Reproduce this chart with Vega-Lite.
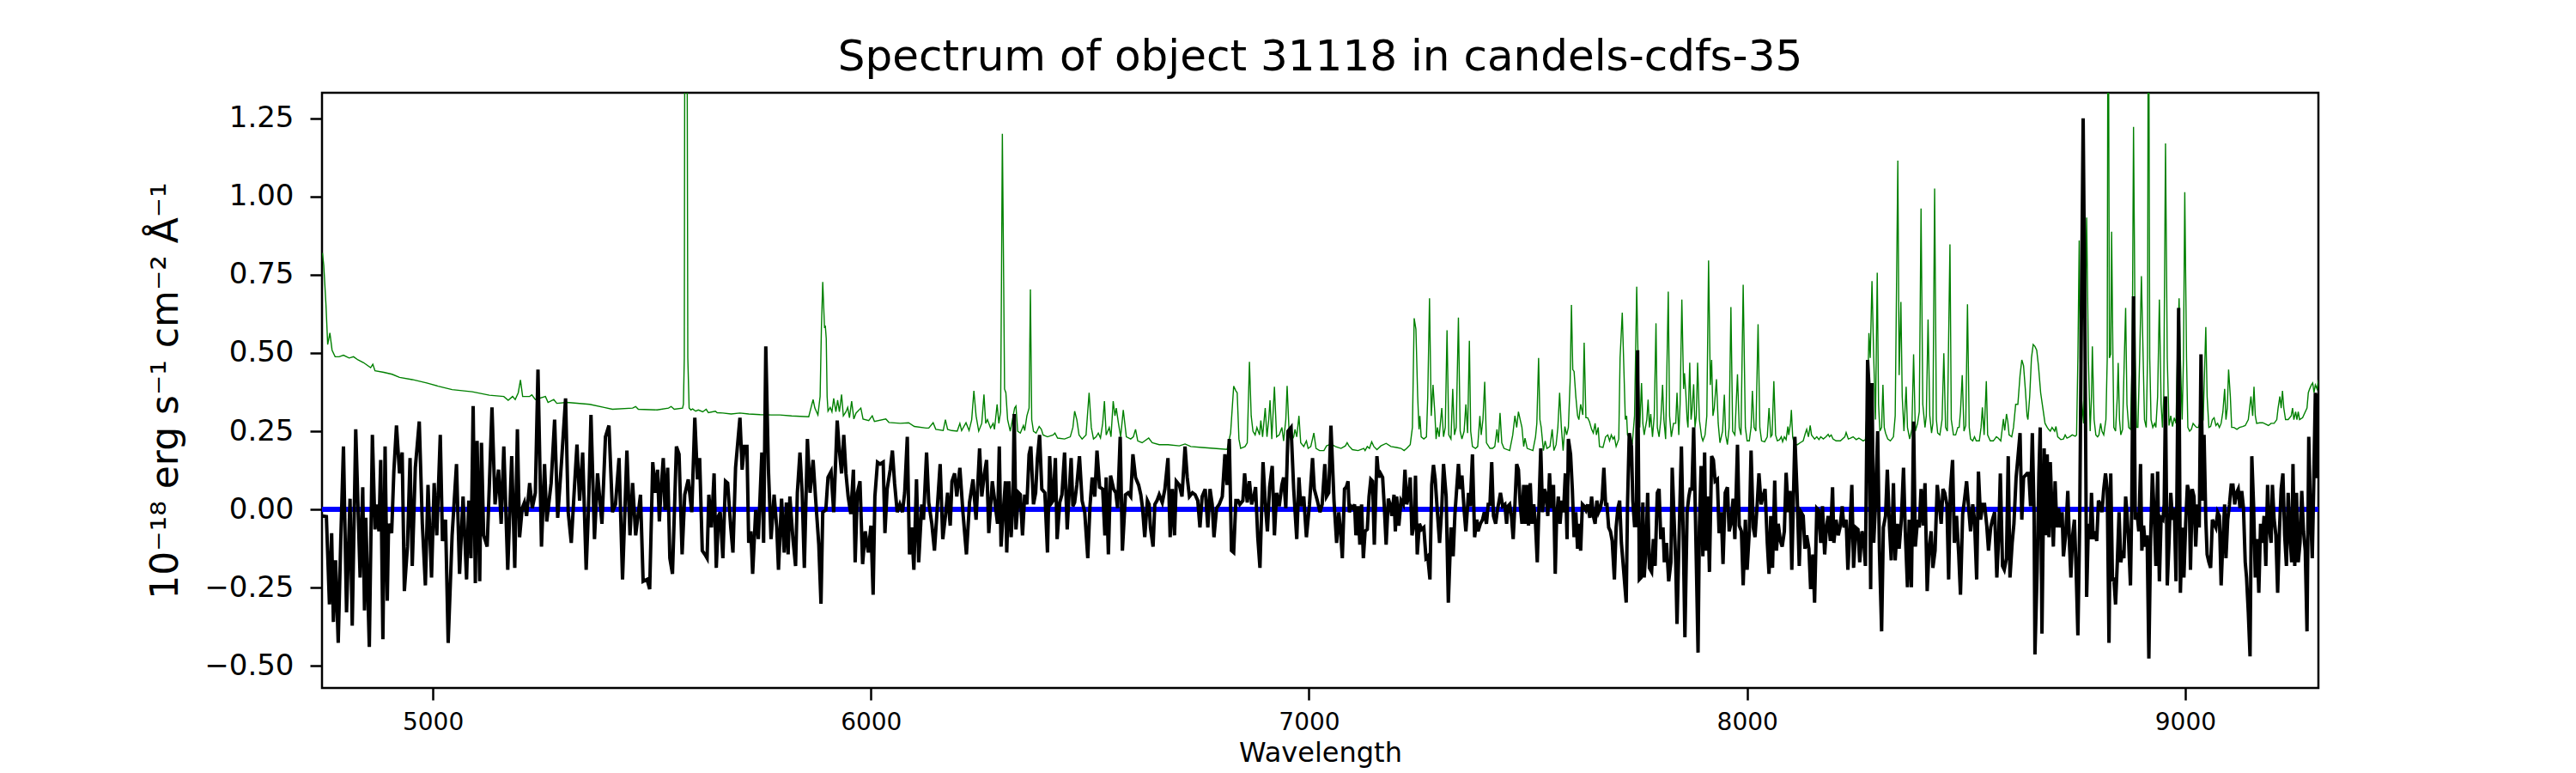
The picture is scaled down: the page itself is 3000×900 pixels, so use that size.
{
  "$schema": "https://vega.github.io/schema/vega-lite/v6.json",
  "width": 2325,
  "height": 693,
  "autosize": {"type": "none"},
  "padding": {"left": 375, "top": 108, "right": 300, "bottom": 99},
  "background": "white",
  "title": {
    "text": "Spectrum of object 31118 in candels-cdfs-35",
    "font": "DejaVu Sans", "fontSize": 50, "fontWeight": "normal", "color": "black",
    "anchor": "middle", "baseline": "alphabetic", "offset": 23, "dy": 47
  },
  "config": {
    "view": {"stroke": "black", "strokeWidth": 2.5},
    "axis": {
      "grid": false, "domain": false,
      "labelFont": "DejaVu Sans", "labelColor": "black",
      "titleFont": "DejaVu Sans", "titleFontWeight": "normal", "titleColor": "black",
      "tickColor": "black", "tickWidth": 2.5, "tickSize": 14,
      "labelOverlap": false, "labelFlush": false, "labelBound": false
    }
  },
  "datasets": {
    "flux": [
      {"w":4748,"v":-0.021},{"w":4757,"v":-0.023},{"w":4764,"v":-0.304},{"w":4769,"v":-0.076},{"w":4773,"v":-0.360},{"w":4778,"v":-0.163},{"w":4784,"v":-0.427},{"w":4790,"v":-0.089},{"w":4796,"v":0.201},{"w":4803,"v":-0.329},
      {"w":4811,"v":0.034},{"w":4816,"v":-0.372},{"w":4824,"v":0.256},{"w":4834,"v":-0.218},{"w":4840,"v":0.071},{"w":4844,"v":-0.323},{"w":4847,"v":-0.027},{"w":4855,"v":-0.440},{"w":4862,"v":0.238},{"w":4868,"v":-0.064},
      {"w":4871,"v":0.016},{"w":4877,"v":-0.070},{"w":4881,"v":0.158},{"w":4886,"v":-0.415},{"w":4891,"v":0.201},{"w":4896,"v":-0.292},{"w":4899,"v":-0.046},{"w":4906,"v":-0.076},{"w":4911,"v":0.121},{"w":4917,"v":0.268},
      {"w":4924,"v":0.115},{"w":4930,"v":0.182},{"w":4935,"v":-0.261},{"w":4942,"v":-0.119},{"w":4948,"v":0.164},{"w":4953,"v":-0.181},{"w":4960,"v":0.133},{"w":4969,"v":0.281},{"w":4976,"v":-0.046},{"w":4983,"v":-0.243},
      {"w":4989,"v":0.078},{"w":4997,"v":-0.218},{"w":5003,"v":0.084},{"w":5009,"v":-0.083},{"w":5017,"v":0.238},{"w":5022,"v":-0.101},{"w":5029,"v":-0.033},{"w":5035,"v":-0.427},{"w":5044,"v":-0.083},{"w":5054,"v":0.145},
      {"w":5061,"v":-0.206},{"w":5069,"v":0.041},{"w":5077,"v":-0.224},{"w":5082,"v":0.028},{"w":5087,"v":-0.156},{"w":5092,"v":0.330},{"w":5097,"v":-0.236},{"w":5101,"v":0.219},{"w":5107,"v":-0.230},{"w":5111,"v":0.213},
      {"w":5116,"v":-0.083},{"w":5124,"v":-0.119},{"w":5129,"v":0.078},{"w":5135,"v":0.326},{"w":5142,"v":0.016},{"w":5150,"v":0.127},{"w":5156,"v":-0.046},{"w":5162,"v":0.201},{"w":5171,"v":-0.193},{"w":5180,"v":0.170},
      {"w":5187,"v":-0.187},{"w":5193,"v":0.256},{"w":5198,"v":-0.089},{"w":5204,"v":0.004},{"w":5209,"v":0.022},{"w":5214,"v":-0.021},{"w":5221,"v":0.084},{"w":5227,"v":0.004},{"w":5234,"v":0.053},{"w":5240,"v":0.447},
      {"w":5248,"v":-0.119},{"w":5255,"v":0.145},{"w":5260,"v":-0.039},{"w":5270,"v":0.084},{"w":5278,"v":0.287},{"w":5285,"v":-0.027},{"w":5294,"v":0.158},{"w":5303,"v":0.355},{"w":5309,"v":-0.009},{"w":5316,"v":-0.107},
      {"w":5322,"v":0.041},{"w":5329,"v":0.207},{"w":5335,"v":0.028},{"w":5342,"v":0.182},{"w":5350,"v":-0.193},{"w":5355,"v":-0.009},{"w":5361,"v":0.302},{"w":5369,"v":-0.095},{"w":5376,"v":0.115},{"w":5386,"v":-0.046},
      {"w":5394,"v":0.232},{"w":5402,"v":0.268},{"w":5410,"v":-0.009},{"w":5417,"v":0.016},{"w":5425,"v":0.164},{"w":5433,"v":-0.224},{"w":5443,"v":0.188},{"w":5450,"v":-0.083},{"w":5456,"v":0.084},{"w":5463,"v":-0.083},
      {"w":5474,"v":0.047},{"w":5480,"v":-0.230},{"w":5489,"v":-0.224},{"w":5495,"v":-0.255},{"w":5502,"v":0.151},{"w":5508,"v":0.053},
      {"w":5513,"v":0.127},{"w":5517,"v":-0.039},{"w":5521,"v":0.065},{"w":5526,"v":0.164},{"w":5530,"v":-0.002},{"w":5536,"v":0.133},{"w":5541,"v":-0.156},{"w":5547,"v":-0.206},{"w":5556,"v":0.201},{"w":5562,"v":0.176},
      {"w":5569,"v":-0.144},{"w":5575,"v":0.047},{"w":5583,"v":0.096},{"w":5591,"v":-0.009},{"w":5598,"v":0.293},{"w":5604,"v":0.096},{"w":5609,"v":0.164},{"w":5615,"v":-0.132},{"w":5621,"v":-0.144},{"w":5626,"v":-0.156},
      {"w":5630,"v":0.047},{"w":5636,"v":-0.058},{"w":5642,"v":0.115},{"w":5647,"v":-0.187},{"w":5652,"v":-0.021},{"w":5656,"v":-0.009},{"w":5662,"v":-0.156},{"w":5668,"v":0.090},{"w":5673,"v":0.084},{"w":5680,"v":-0.058},
      {"w":5685,"v":-0.138},{"w":5691,"v":0.133},{"w":5701,"v":0.293},{"w":5706,"v":0.127},{"w":5711,"v":0.201},{"w":5717,"v":0.201},{"w":5721,"v":-0.107},{"w":5726,"v":-0.070},{"w":5730,"v":-0.206},{"w":5737,"v":-0.002},
      {"w":5743,"v":-0.095},{"w":5751,"v":0.182},{"w":5755,"v":-0.107},{"w":5760,"v":0.521},{"w":5766,"v":0.127},{"w":5772,"v":-0.095},{"w":5779,"v":0.047},{"w":5785,"v":-0.058},{"w":5789,"v":-0.193},{"w":5796,"v":0.034},
      {"w":5802,"v":-0.138},{"w":5807,"v":0.022},{"w":5811,"v":-0.144},{"w":5815,"v":0.041},{"w":5822,"v":-0.095},{"w":5828,"v":-0.181},{"w":5832,"v":0.053},{"w":5838,"v":0.182},{"w":5843,"v":0.053},{"w":5848,"v":-0.187},
      {"w":5855,"v":0.225},{"w":5861,"v":0.053},{"w":5868,"v":0.158},{"w":5874,"v":0.028},{"w":5881,"v":-0.113},{"w":5886,"v":-0.302},{"w":5890,"v":-0.009},{"w":5897,"v":-0.002},{"w":5902,"v":0.102},{"w":5909,"v":0.121},
      {"w":5915,"v":-0.009},{"w":5923,"v":0.284},{"w":5928,"v":0.188},{"w":5933,"v":0.115},{"w":5938,"v":0.238},{"w":5943,"v":0.115},{"w":5948,"v":0.041},{"w":5954,"v":-0.015},{"w":5960,"v":0.127},{"w":5964,"v":-0.169},
      {"w":5969,"v":0.053},{"w":5975,"v":0.090},{"w":5981,"v":-0.175},{"w":5987,"v":-0.070},{"w":5994,"v":-0.138},{"w":6000,"v":-0.052},{"w":6005,"v":-0.273},{"w":6009,"v":0.041},{"w":6015,"v":0.151},{"w":6021,"v":0.145},
      {"w":6028,"v":0.151},{"w":6032,"v":-0.076},{"w":6037,"v":0.065},{"w":6044,"v":0.127},{"w":6049,"v":0.188},{"w":6054,"v":0.084},{"w":6060,"v":-0.009},{"w":6066,"v":0.016},{"w":6072,"v":-0.009},{"w":6077,"v":0.053},
      {"w":6083,"v":0.232},{"w":6088,"v":-0.144},{"w":6093,"v":-0.058},{"w":6098,"v":-0.193},{"w":6104,"v":0.096},{"w":6109,"v":-0.169},{"w":6116,"v":0.016},{"w":6120,"v":-0.033},{"w":6127,"v":0.182},{"w":6132,"v":0.022},
      {"w":6139,"v":-0.046},{"w":6145,"v":-0.132},{"w":6152,"v":0.016},{"w":6158,"v":0.145},{"w":6164,"v":-0.095},{"w":6170,"v":-0.021},{"w":6175,"v":0.053},{"w":6181,"v":-0.052},{"w":6185,"v":0.090},{"w":6191,"v":0.115},
      {"w":6196,"v":0.041},{"w":6203,"v":0.133},{"w":6210,"v":-0.009},{"w":6218,"v":-0.144},{"w":6225,"v":0.022},{"w":6233,"v":0.096},{"w":6240,"v":-0.033},{"w":6248,"v":0.195},{"w":6253,"v":0.041},{"w":6259,"v":0.115},
      {"w":6264,"v":0.158},{"w":6269,"v":-0.076},{"w":6277,"v":0.090},{"w":6282,"v":0.034},{"w":6289,"v":-0.046},
      {"w":6293,"v":0.201},{"w":6297,"v":-0.119},{"w":6302,"v":-0.009},{"w":6307,"v":0.090},{"w":6310,"v":-0.138},{"w":6315,"v":0.090},{"w":6320,"v":-0.089},{"w":6324,"v":0.016},{"w":6327,"v":0.305},{"w":6331,"v":-0.064},
      {"w":6337,"v":0.053},{"w":6341,"v":0.047},{"w":6346,"v":-0.083},{"w":6351,"v":0.047},{"w":6356,"v":0.016},{"w":6361,"v":0.176},{"w":6365,"v":0.201},{"w":6371,"v":0.016},{"w":6376,"v":0.053},{"w":6380,"v":0.164},
      {"w":6385,"v":0.238},{"w":6390,"v":0.065},{"w":6397,"v":0.053},{"w":6403,"v":-0.138},{"w":6408,"v":0.170},{"w":6413,"v":0.022},{"w":6416,"v":0.028},{"w":6421,"v":0.164},{"w":6425,"v":-0.095},{"w":6431,"v":0.022},
      {"w":6436,"v":0.047},{"w":6442,"v":0.182},{"w":6448,"v":-0.064},{"w":6453,"v":0.065},{"w":6457,"v":0.164},{"w":6461,"v":0.010},{"w":6465,"v":0.022},{"w":6470,"v":0.078},{"w":6476,"v":0.170},{"w":6482,"v":0.028},
      {"w":6488,"v":-0.009},{"w":6495,"v":-0.156},{"w":6500,"v":0.010},{"w":6505,"v":0.102},{"w":6511,"v":0.041},{"w":6516,"v":0.188},{"w":6522,"v":0.071},{"w":6529,"v":0.065},{"w":6534,"v":-0.083},{"w":6537,"v":0.102},
      {"w":6542,"v":-0.144},{"w":6547,"v":0.108},{"w":6554,"v":0.065},{"w":6559,"v":0.053},{"w":6563,"v":0.004},{"w":6569,"v":0.232},{"w":6574,"v":-0.132},{"w":6581,"v":0.047},{"w":6587,"v":0.053},{"w":6593,"v":0.041},
      {"w":6598,"v":0.176},{"w":6604,"v":0.102},{"w":6611,"v":0.078},{"w":6616,"v":0.047},{"w":6620,"v":0.004},{"w":6625,"v":-0.089},{"w":6631,"v":0.028},{"w":6635,"v":0.016},{"w":6638,"v":-0.058},{"w":6644,"v":-0.119},
      {"w":6648,"v":0.016},{"w":6653,"v":0.028},{"w":6658,"v":0.047},{"w":6665,"v":0.022},{"w":6671,"v":0.065},{"w":6678,"v":0.164},{"w":6683,"v":-0.089},{"w":6688,"v":0.065},{"w":6693,"v":-0.083},{"w":6697,"v":0.090},
      {"w":6704,"v":0.078},{"w":6710,"v":0.041},{"w":6717,"v":0.201},{"w":6722,"v":0.102},{"w":6727,"v":0.041},{"w":6734,"v":0.053},{"w":6740,"v":0.047},{"w":6746,"v":0.028},{"w":6751,"v":-0.058},{"w":6756,"v":0.041},
      {"w":6763,"v":0.065},{"w":6769,"v":-0.058},{"w":6774,"v":0.065},{"w":6779,"v":0.016},{"w":6783,"v":-0.089},{"w":6789,"v":0.004},{"w":6795,"v":0.016},{"w":6802,"v":0.041},{"w":6808,"v":0.176},{"w":6813,"v":0.078},
      {"w":6818,"v":0.225},{"w":6823,"v":-0.132},{"w":6828,"v":-0.138},{"w":6833,"v":0.028},{"w":6838,"v":0.028},{"w":6842,"v":0.016},{"w":6849,"v":0.028},{"w":6853,"v":0.115},{"w":6859,"v":0.022},{"w":6864,"v":0.090},
      {"w":6869,"v":0.016},{"w":6874,"v":0.041},{"w":6878,"v":0.071},{"w":6883,"v":-0.089},{"w":6888,"v":-0.187},{"w":6895,"v":0.151},{"w":6900,"v":0.022},{"w":6905,"v":-0.070},{"w":6910,"v":0.071},{"w":6916,"v":0.139},
      {"w":6921,"v":-0.083},{"w":6926,"v":0.053},{"w":6932,"v":0.010},{"w":6938,"v":0.078},{"w":6942,"v":0.102},{"w":6947,"v":0.004},{"w":6952,"v":0.250},{"w":6959,"v":0.262},{"w":6965,"v":0.065},{"w":6972,"v":-0.095},
      {"w":6977,"v":0.102},{"w":6981,"v":0.010},{"w":6988,"v":0.041},{"w":6994,"v":-0.089},{"w":7001,"v":0.016},{"w":7008,"v":0.164},{"w":7012,"v":0.065},{"w":7019,"v":0.028},{"w":7025,"v":-0.009},{"w":7030,"v":0.016},
      {"w":7036,"v":0.145},{"w":7040,"v":0.041},{"w":7045,"v":0.053},{"w":7050,"v":0.268},{"w":7057,"v":0.028},{"w":7063,"v":-0.107},
      {"w":7068,"v":-0.009},{"w":7072,"v":-0.070},{"w":7076,"v":-0.156},{"w":7081,"v":0.065},{"w":7085,"v":0.071},{"w":7089,"v":0.090},{"w":7092,"v":-0.009},{"w":7096,"v":0.010},{"w":7100,"v":0.004},{"w":7104,"v":0.016},
      {"w":7107,"v":-0.083},{"w":7112,"v":0.010},{"w":7116,"v":-0.113},{"w":7120,"v":0.016},{"w":7124,"v":-0.156},{"w":7128,"v":-0.070},{"w":7133,"v":-0.064},{"w":7137,"v":0.041},{"w":7141,"v":0.096},{"w":7145,"v":0.090},
      {"w":7149,"v":-0.113},{"w":7155,"v":0.170},{"w":7159,"v":0.102},{"w":7163,"v":0.115},{"w":7168,"v":0.102},{"w":7172,"v":0.004},{"w":7176,"v":-0.113},{"w":7181,"v":0.034},{"w":7185,"v":0.016},{"w":7189,"v":-0.021},
      {"w":7194,"v":0.047},{"w":7197,"v":-0.070},{"w":7200,"v":0.041},{"w":7205,"v":-0.052},{"w":7210,"v":0.028},{"w":7215,"v":0.016},{"w":7219,"v":0.127},{"w":7223,"v":0.016},{"w":7227,"v":0.041},{"w":7231,"v":0.102},
      {"w":7235,"v":-0.083},{"w":7240,"v":-0.046},{"w":7243,"v":0.108},{"w":7247,"v":-0.144},{"w":7252,"v":-0.046},{"w":7257,"v":-0.064},{"w":7262,"v":-0.058},{"w":7267,"v":-0.156},{"w":7271,"v":-0.150},{"w":7276,"v":-0.224},
      {"w":7280,"v":0.078},{"w":7284,"v":0.142},{"w":7288,"v":0.096},{"w":7293,"v":-0.009},{"w":7298,"v":-0.107},{"w":7303,"v":0.004},{"w":7307,"v":0.145},{"w":7313,"v":0.041},{"w":7318,"v":-0.298},{"w":7324,"v":-0.058},
      {"w":7329,"v":-0.150},{"w":7333,"v":-0.015},{"w":7337,"v":0.065},{"w":7341,"v":0.145},{"w":7345,"v":0.065},{"w":7349,"v":0.108},{"w":7354,"v":-0.002},{"w":7358,"v":-0.070},{"w":7364,"v":0.053},{"w":7368,"v":0.010},
      {"w":7373,"v":0.176},{"w":7378,"v":-0.089},{"w":7383,"v":-0.033},{"w":7386,"v":-0.070},{"w":7391,"v":-0.046},{"w":7396,"v":-0.033},{"w":7400,"v":-0.009},{"w":7405,"v":-0.046},{"w":7409,"v":0.016},{"w":7413,"v":0.016},
      {"w":7417,"v":0.151},{"w":7421,"v":-0.021},{"w":7426,"v":-0.046},{"w":7430,"v":-0.002},{"w":7434,"v":0.028},{"w":7437,"v":0.053},{"w":7442,"v":0.010},{"w":7447,"v":0.016},{"w":7451,"v":-0.046},{"w":7454,"v":0.010},
      {"w":7458,"v":0.016},{"w":7462,"v":-0.021},{"w":7466,"v":-0.095},{"w":7470,"v":0.016},{"w":7474,"v":0.145},{"w":7478,"v":0.127},{"w":7482,"v":0.016},{"w":7486,"v":-0.046},{"w":7490,"v":0.078},{"w":7494,"v":-0.046},
      {"w":7498,"v":0.078},{"w":7501,"v":-0.052},{"w":7505,"v":0.084},{"w":7509,"v":-0.046},{"w":7513,"v":0.016},{"w":7517,"v":-0.046},{"w":7521,"v":-0.169},{"w":7525,"v":0.016},{"w":7529,"v":0.195},{"w":7533,"v":-0.009},
      {"w":7537,"v":0.065},{"w":7541,"v":0.047},{"w":7545,"v":-0.021},{"w":7549,"v":0.115},{"w":7553,"v":0.004},{"w":7558,"v":0.078},{"w":7562,"v":-0.206},{"w":7565,"v":-0.033},{"w":7569,"v":0.041},{"w":7573,"v":-0.046},
      {"w":7577,"v":0.028},{"w":7581,"v":-0.009},{"w":7585,"v":0.115},{"w":7589,"v":-0.095},{"w":7592,"v":0.225},{"w":7597,"v":0.176},{"w":7601,"v":0.065},{"w":7605,"v":-0.089},{"w":7609,"v":-0.009},{"w":7613,"v":-0.126},
      {"w":7616,"v":-0.046},{"w":7620,"v":-0.132},{"w":7624,"v":0.016},{"w":7628,"v":0.010},{"w":7632,"v":-0.002},{"w":7636,"v":0.016},{"w":7641,"v":-0.027},{"w":7645,"v":0.041},{"w":7649,"v":-0.021},{"w":7653,"v":-0.046},
      {"w":7657,"v":0.028},{"w":7661,"v":-0.009},{"w":7665,"v":0.004},{"w":7669,"v":0.034},{"w":7673,"v":0.133},{"w":7677,"v":0.016},{"w":7680,"v":0.016},{"w":7684,"v":-0.058},{"w":7688,"v":-0.070},{"w":7692,"v":-0.101},
      {"w":7697,"v":-0.224},{"w":7701,"v":-0.058},{"w":7705,"v":0.004},{"w":7709,"v":0.028},{"w":7713,"v":-0.107},{"w":7718,"v":-0.193},{"w":7724,"v":-0.298},{"w":7727,"v":0.016},{"w":7731,"v":0.244},{"w":7736,"v":0.201},
      {"w":7739,"v":0.028},{"w":7743,"v":-0.052},{"w":7747,"v":-0.052},{"w":7750,"v":0.509},{"w":7754,"v":-0.224},{"w":7758,"v":-0.218},{"w":7762,"v":0.022},{"w":7765,"v":-0.218},{"w":7769,"v":-0.132},{"w":7773,"v":0.053},
      {"w":7777,"v":-0.187},{"w":7782,"v":-0.200},{"w":7786,"v":-0.095},{"w":7790,"v":-0.181},{"w":7795,"v":0.053},{"w":7799,"v":0.065},{"w":7803,"v":-0.095},{"w":7808,"v":-0.058},{"w":7811,"v":-0.169},{"w":7816,"v":-0.107},
      {"w":7821,"v":-0.230},{"w":7826,"v":-0.169},{"w":7829,"v":0.133},
      {"w":7837,"v":-0.169},{"w":7840,"v":-0.366},{"w":7845,"v":-0.070},{"w":7850,"v":0.201},{"w":7854,"v":-0.070},{"w":7858,"v":-0.409},{"w":7863,"v":-0.009},{"w":7867,"v":0.041},{"w":7870,"v":0.065},{"w":7874,"v":0.065},
      {"w":7878,"v":0.262},{"w":7882,"v":-0.021},{"w":7888,"v":-0.458},{"w":7891,"v":-0.058},{"w":7895,"v":0.139},{"w":7899,"v":-0.150},{"w":7903,"v":0.182},{"w":7906,"v":-0.132},{"w":7910,"v":0.041},{"w":7914,"v":-0.200},
      {"w":7919,"v":0.170},{"w":7923,"v":0.158},{"w":7927,"v":0.090},{"w":7932,"v":0.096},{"w":7936,"v":-0.076},{"w":7941,"v":-0.009},{"w":7945,"v":-0.175},{"w":7950,"v":0.053},{"w":7955,"v":0.071},{"w":7959,"v":-0.070},
      {"w":7963,"v":-0.046},{"w":7968,"v":0.034},{"w":7972,"v":-0.095},{"w":7978,"v":0.207},{"w":7982,"v":-0.052},{"w":7987,"v":-0.070},{"w":7991,"v":-0.243},{"w":7996,"v":-0.033},{"w":8000,"v":-0.193},{"w":8005,"v":-0.070},
      {"w":8009,"v":0.188},{"w":8014,"v":-0.058},{"w":8018,"v":-0.089},{"w":8023,"v":0.016},{"w":8027,"v":0.115},{"w":8032,"v":0.016},{"w":8036,"v":0.041},{"w":8041,"v":0.065},{"w":8046,"v":-0.107},{"w":8050,"v":-0.206},
      {"w":8054,"v":-0.021},{"w":8058,"v":-0.187},{"w":8063,"v":0.092},{"w":8067,"v":-0.132},{"w":8071,"v":-0.046},{"w":8076,"v":-0.101},{"w":8080,"v":-0.119},{"w":8085,"v":-0.070},{"w":8089,"v":0.117},{"w":8094,"v":-0.009},
      {"w":8098,"v":0.059},{"w":8102,"v":-0.193},{"w":8106,"v":0.053},{"w":8109,"v":0.232},{"w":8114,"v":0.053},{"w":8119,"v":-0.181},{"w":8123,"v":-0.009},{"w":8128,"v":-0.021},{"w":8132,"v":-0.126},{"w":8136,"v":-0.083},
      {"w":8141,"v":-0.126},{"w":8145,"v":-0.255},{"w":8150,"v":-0.144},{"w":8154,"v":-0.298},{"w":8159,"v":0.004},{"w":8163,"v":-0.002},{"w":8168,"v":-0.107},{"w":8172,"v":0.010},{"w":8177,"v":-0.144},{"w":8181,"v":-0.058},
      {"w":8185,"v":-0.021},{"w":8190,"v":-0.101},{"w":8195,"v":0.071},{"w":8198,"v":-0.107},{"w":8203,"v":-0.033},{"w":8208,"v":-0.083},{"w":8212,"v":-0.058},{"w":8217,"v":0.010},{"w":8221,"v":-0.058},{"w":8226,"v":-0.033},
      {"w":8230,"v":-0.193},{"w":8234,"v":-0.083},{"w":8239,"v":0.078},{"w":8243,"v":-0.187},{"w":8248,"v":-0.058},{"w":8253,"v":-0.064},{"w":8257,"v":-0.169},{"w":8262,"v":-0.070},{"w":8266,"v":-0.095},{"w":8270,"v":-0.181},
      {"w":8275,"v":0.478},{"w":8278,"v":0.398},{"w":8282,"v":-0.255},{"w":8285,"v":0.404},{"w":8289,"v":-0.107},{"w":8293,"v":0.016},{"w":8298,"v":0.250},{"w":8302,"v":-0.132},{"w":8307,"v":-0.390},{"w":8311,"v":-0.058},
      {"w":8316,"v":-0.021},{"w":8320,"v":0.127},{"w":8325,"v":-0.058},{"w":8329,"v":-0.163},{"w":8334,"v":0.084},{"w":8338,"v":-0.163},{"w":8343,"v":-0.046},{"w":8347,"v":-0.126},{"w":8352,"v":-0.033},{"w":8357,"v":0.133},
      {"w":8361,"v":-0.070},{"w":8366,"v":-0.249},{"w":8370,"v":-0.033},{"w":8375,"v":-0.249},{"w":8380,"v":0.281},{"w":8384,"v":-0.119},{"w":8389,"v":-0.033},{"w":8393,"v":-0.058},{"w":8397,"v":0.065},{"w":8402,"v":-0.052},
      {"w":8406,"v":0.084},{"w":8411,"v":-0.261},{"w":8415,"v":-0.132},{"w":8420,"v":-0.070},{"w":8424,"v":-0.187},{"w":8429,"v":-0.132},{"w":8434,"v":0.078},{"w":8438,"v":0.022},{"w":8443,"v":-0.046},{"w":8447,"v":0.065},
      {"w":8451,"v":0.053},{"w":8456,"v":0.016},{"w":8460,"v":-0.224},{"w":8464,"v":0.065},{"w":8469,"v":0.158},{"w":8473,"v":-0.107},{"w":8478,"v":-0.021},{"w":8483,"v":-0.144},{"w":8487,"v":-0.273},{"w":8492,"v":-0.015},
      {"w":8496,"v":0.028},{"w":8501,"v":0.090},{"w":8506,"v":-0.002},{"w":8510,"v":-0.070},{"w":8515,"v":0.016},{"w":8519,"v":-0.033},{"w":8524,"v":-0.224},{"w":8528,"v":0.121},{"w":8533,"v":-0.033},{"w":8538,"v":0.016},
      {"w":8542,"v":0.016},{"w":8547,"v":-0.052},{"w":8551,"v":-0.132},{"w":8556,"v":-0.058},{"w":8560,"v":-0.033},{"w":8565,"v":-0.009},{"w":8570,"v":-0.218},{"w":8574,"v":-0.095},{"w":8578,"v":0.115},{"w":8583,"v":-0.181},
      {"w":8587,"v":-0.193},{"w":8592,"v":-0.156},{"w":8596,"v":0.170},{"w":8600,"v":-0.218},{"w":8605,"v":-0.107},{"w":8609,"v":-0.046},{"w":8614,"v":0.102},{"w":8618,"v":0.164},
      {"w":8623,"v":0.244},{"w":8627,"v":-0.033},{"w":8631,"v":0.102},{"w":8635,"v":0.108},{"w":8639,"v":0.115},{"w":8643,"v":0.115},{"w":8647,"v":0.010},{"w":8651,"v":0.244},{"w":8655,"v":-0.009},{"w":8657,"v":-0.464},
      {"w":8662,"v":-0.193},{"w":8666,"v":0.115},{"w":8669,"v":0.262},{"w":8673,"v":-0.397},{"w":8678,"v":0.195},{"w":8682,"v":-0.083},{"w":8685,"v":0.176},{"w":8689,"v":-0.089},{"w":8692,"v":0.151},{"w":8696,"v":-0.009},
      {"w":8699,"v":-0.119},{"w":8703,"v":0.090},{"w":8707,"v":-0.058},{"w":8711,"v":0.004},{"w":8715,"v":-0.058},{"w":8719,"v":-0.009},{"w":8722,"v":-0.150},{"w":8727,"v":-0.083},{"w":8732,"v":0.059},{"w":8736,"v":-0.119},
      {"w":8739,"v":-0.218},{"w":8743,"v":-0.083},{"w":8747,"v":-0.033},{"w":8751,"v":-0.193},{"w":8755,"v":-0.403},{"w":8759,"v":-0.058},{"w":8763,"v":0.607},{"w":8767,"v":1.250},{"w":8771,"v":0.607},{"w":8775,"v":-0.280},
      {"w":8779,"v":-0.046},{"w":8783,"v":-0.095},{"w":8786,"v":0.053},{"w":8790,"v":-0.095},{"w":8794,"v":-0.070},{"w":8798,"v":-0.101},{"w":8802,"v":0.028},{"w":8806,"v":0.016},{"w":8810,"v":-0.009},{"w":8814,"v":0.065},
      {"w":8818,"v":0.115},{"w":8822,"v":0.065},{"w":8826,"v":-0.427},{"w":8830,"v":0.115},{"w":8834,"v":-0.230},{"w":8837,"v":-0.218},{"w":8841,"v":-0.304},{"w":8845,"v":-0.169},{"w":8849,"v":-0.009},{"w":8853,"v":-0.169},
      {"w":8857,"v":-0.132},{"w":8860,"v":-0.156},{"w":8864,"v":0.041},{"w":8867,"v":-0.009},{"w":8871,"v":-0.107},{"w":8875,"v":-0.243},{"w":8878,"v":0.016},{"w":8882,"v":0.681},{"w":8886,"v":-0.033},{"w":8890,"v":-0.009},
      {"w":8894,"v":-0.070},{"w":8898,"v":0.145},{"w":8901,"v":-0.132},{"w":8905,"v":-0.052},{"w":8909,"v":-0.119},{"w":8913,"v":-0.083},{"w":8917,"v":-0.477},{"w":8921,"v":-0.095},{"w":8925,"v":0.115},{"w":8929,"v":-0.009},
      {"w":8933,"v":-0.181},{"w":8937,"v":0.121},{"w":8941,"v":-0.230},{"w":8945,"v":-0.027},{"w":8949,"v":-0.033},{"w":8952,"v":0.016},{"w":8955,"v":0.361},{"w":8959,"v":-0.243},{"w":8963,"v":-0.107},{"w":8967,"v":0.053},
      {"w":8971,"v":-0.033},{"w":8975,"v":0.004},{"w":8979,"v":-0.230},{"w":8981,"v":0.041},{"w":8985,"v":0.644},{"w":8989,"v":-0.267},{"w":8993,"v":-0.058},{"w":8997,"v":-0.218},{"w":9001,"v":-0.046},{"w":9005,"v":0.078},
      {"w":9009,"v":0.053},{"w":9012,"v":-0.193},{"w":9016,"v":0.065},{"w":9020,"v":0.041},{"w":9024,"v":-0.119},{"w":9028,"v":0.016},{"w":9032,"v":-0.058},{"w":9036,"v":0.496},{"w":9040,"v":0.028},{"w":9043,"v":0.238},
      {"w":9047,"v":-0.033},{"w":9050,"v":-0.144},{"w":9054,"v":-0.169},{"w":9058,"v":-0.187},{"w":9062,"v":-0.033},{"w":9066,"v":-0.046},{"w":9070,"v":-0.058},{"w":9074,"v":-0.009},{"w":9078,"v":-0.021},{"w":9082,"v":-0.243},
      {"w":9086,"v":-0.095},{"w":9090,"v":0.016},{"w":9093,"v":-0.156},{"w":9097,"v":-0.033},{"w":9101,"v":0.016},{"w":9105,"v":0.078},{"w":9109,"v":0.078},{"w":9113,"v":0.016},{"w":9117,"v":0.053},{"w":9121,"v":0.065},
      {"w":9125,"v":0.004},{"w":9129,"v":0.059},{"w":9133,"v":0.004},{"w":9137,"v":-0.169},{"w":9140,"v":-0.218},{"w":9144,"v":-0.329},{"w":9148,"v":-0.470},{"w":9152,"v":0.170},{"w":9156,"v":0.016},{"w":9160,"v":-0.218},
      {"w":9164,"v":-0.095},{"w":9168,"v":-0.267},{"w":9172,"v":-0.046},{"w":9176,"v":-0.107},{"w":9180,"v":-0.021},{"w":9184,"v":-0.181},{"w":9188,"v":0.078},{"w":9192,"v":-0.058},{"w":9196,"v":-0.107},{"w":9199,"v":0.078},
      {"w":9203,"v":-0.033},{"w":9207,"v":-0.083},{"w":9211,"v":-0.267},{"w":9215,"v":-0.070},{"w":9219,"v":0.065},{"w":9223,"v":0.115},{"w":9227,"v":-0.083},{"w":9231,"v":-0.181},{"w":9235,"v":0.053},{"w":9239,"v":-0.083},
      {"w":9243,"v":-0.169},{"w":9246,"v":0.145},{"w":9250,"v":-0.181},{"w":9254,"v":0.053},{"w":9258,"v":-0.169},{"w":9262,"v":-0.107},{"w":9266,"v":0.059},{"w":9270,"v":-0.070},{"w":9274,"v":-0.132},{"w":9278,"v":-0.390},
      {"w":9282,"v":0.232},{"w":9286,"v":-0.009},{"w":9290,"v":-0.156},{"w":9293,"v":0.053},{"w":9297,"v":0.373},{"w":9300,"v":0.100},{"w":9304,"v":0.370},{"w":9308,"v":0.300}
    ],
    "err": [
      {"w":4748,"v":0.820},{"w":4751,"v":0.780},{"w":4756,"v":0.656},{"w":4760,"v":0.527},{"w":4765,"v":0.564},{"w":4770,"v":0.509},{"w":4777,"v":0.488},{"w":4786,"v":0.488},{"w":4796,"v":0.493},{"w":4809,"v":0.484},
      {"w":4819,"v":0.488},{"w":4829,"v":0.478},{"w":4842,"v":0.469},{"w":4858,"v":0.453},{"w":4863,"v":0.464},{"w":4868,"v":0.443},{"w":4888,"v":0.438},{"w":4907,"v":0.432},{"w":4924,"v":0.422},{"w":4953,"v":0.415},
      {"w":4986,"v":0.404},{"w":5012,"v":0.394},{"w":5044,"v":0.383},{"w":5090,"v":0.376},{"w":5129,"v":0.365},{"w":5162,"v":0.361},{"w":5172,"v":0.349},{"w":5182,"v":0.361},{"w":5188,"v":0.351},{"w":5195,"v":0.373},
      {"w":5200,"v":0.414},{"w":5205,"v":0.361},{"w":5221,"v":0.361},{"w":5226,"v":0.366},{"w":5234,"v":0.351},{"w":5257,"v":0.361},{"w":5263,"v":0.342},{"w":5276,"v":0.351},{"w":5283,"v":0.339},{"w":5306,"v":0.342},
      {"w":5358,"v":0.336},{"w":5391,"v":0.326},{"w":5410,"v":0.320},{"w":5456,"v":0.324},{"w":5463,"v":0.329},{"w":5469,"v":0.320},
      {"w":5512,"v":0.318},{"w":5538,"v":0.324},{"w":5544,"v":0.329},{"w":5551,"v":0.320},{"w":5570,"v":0.324},{"w":5572,"v":0.336},{"w":5574,"v":0.484},{"w":5576,"v":2.5},{"w":5579,"v":2.5},{"w":5582,"v":0.484},
      {"w":5585,"v":0.324},{"w":5589,"v":0.318},{"w":5593,"v":0.321},{"w":5600,"v":0.314},{"w":5606,"v":0.318},{"w":5616,"v":0.312},{"w":5624,"v":0.320},{"w":5629,"v":0.309},{"w":5645,"v":0.314},{"w":5649,"v":0.309},
      {"w":5662,"v":0.308},{"w":5681,"v":0.305},{"w":5701,"v":0.308},{"w":5721,"v":0.305},{"w":5747,"v":0.303},{"w":5773,"v":0.302},{"w":5792,"v":0.302},{"w":5819,"v":0.299},{"w":5858,"v":0.296},{"w":5863,"v":0.324},
      {"w":5868,"v":0.351},{"w":5872,"v":0.324},{"w":5879,"v":0.302},{"w":5884,"v":0.361},{"w":5887,"v":0.583},{"w":5890,"v":0.727},{"w":5894,"v":0.583},{"w":5896,"v":0.585},{"w":5898,"v":0.546},{"w":5900,"v":0.361},
      {"w":5902,"v":0.314},{"w":5907,"v":0.326},{"w":5911,"v":0.312},{"w":5915,"v":0.355},{"w":5920,"v":0.312},{"w":5924,"v":0.349},{"w":5928,"v":0.312},{"w":5933,"v":0.367},{"w":5937,"v":0.299},{"w":5943,"v":0.312},
      {"w":5947,"v":0.326},{"w":5951,"v":0.293},{"w":5956,"v":0.346},{"w":5961,"v":0.289},{"w":5966,"v":0.308},{"w":5977,"v":0.324},{"w":5982,"v":0.289},{"w":5995,"v":0.284},{"w":6003,"v":0.299},{"w":6008,"v":0.281},
      {"w":6034,"v":0.289},{"w":6041,"v":0.278},{"w":6067,"v":0.275},{"w":6086,"v":0.277},{"w":6099,"v":0.265},{"w":6126,"v":0.260},{"w":6132,"v":0.260},{"w":6142,"v":0.277},{"w":6148,"v":0.256},{"w":6165,"v":0.252},
      {"w":6170,"v":0.287},{"w":6175,"v":0.256},{"w":6184,"v":0.252},{"w":6197,"v":0.250},{"w":6203,"v":0.275},{"w":6207,"v":0.252},{"w":6217,"v":0.277},{"w":6224,"v":0.252},{"w":6230,"v":0.287},{"w":6235,"v":0.379},
      {"w":6240,"v":0.299},{"w":6246,"v":0.250},{"w":6253,"v":0.275},{"w":6258,"v":0.367},{"w":6262,"v":0.275},{"w":6266,"v":0.287},{"w":6273,"v":0.260},{"w":6279,"v":0.275},{"w":6282,"v":0.256},{"w":6288,"v":0.336},
      {"w":6292,"v":0.275},
      {"w":6296,"v":0.312},{"w":6298,"v":0.730},{"w":6300,"v":1.201},{"w":6303,"v":0.730},{"w":6305,"v":0.385},{"w":6308,"v":0.373},{"w":6312,"v":0.287},{"w":6318,"v":0.250},{"w":6323,"v":0.287},{"w":6328,"v":0.324},
      {"w":6331,"v":0.330},{"w":6335,"v":0.250},{"w":6341,"v":0.244},{"w":6348,"v":0.268},{"w":6351,"v":0.252},{"w":6356,"v":0.299},{"w":6361,"v":0.324},{"w":6364,"v":0.703},{"w":6367,"v":0.287},{"w":6371,"v":0.250},
      {"w":6377,"v":0.244},{"w":6384,"v":0.265},{"w":6389,"v":0.256},{"w":6393,"v":0.238},{"w":6403,"v":0.232},{"w":6416,"v":0.238},{"w":6420,"v":0.244},{"w":6426,"v":0.228},{"w":6442,"v":0.225},{"w":6455,"v":0.232},
      {"w":6461,"v":0.262},{"w":6465,"v":0.314},{"w":6470,"v":0.287},{"w":6475,"v":0.238},{"w":6482,"v":0.225},{"w":6491,"v":0.238},{"w":6498,"v":0.373},{"w":6503,"v":0.262},{"w":6508,"v":0.225},{"w":6514,"v":0.232},
      {"w":6519,"v":0.244},{"w":6524,"v":0.228},{"w":6529,"v":0.275},{"w":6533,"v":0.346},{"w":6537,"v":0.238},{"w":6544,"v":0.262},{"w":6548,"v":0.232},{"w":6553,"v":0.346},{"w":6557,"v":0.299},{"w":6560,"v":0.324},
      {"w":6565,"v":0.275},{"w":6570,"v":0.232},{"w":6576,"v":0.318},{"w":6583,"v":0.232},{"w":6593,"v":0.225},{"w":6599,"v":0.232},{"w":6604,"v":0.256},{"w":6609,"v":0.219},{"w":6619,"v":0.213},{"w":6634,"v":0.228},
      {"w":6642,"v":0.213},{"w":6658,"v":0.207},{"w":6678,"v":0.207},{"w":6704,"v":0.203},{"w":6717,"v":0.209},{"w":6730,"v":0.201},{"w":6756,"v":0.198},{"w":6782,"v":0.195},{"w":6813,"v":0.192},{"w":6821,"v":0.244},
      {"w":6828,"v":0.394},{"w":6833,"v":0.379},{"w":6836,"v":0.373},{"w":6840,"v":0.225},{"w":6844,"v":0.195},{"w":6854,"v":0.201},{"w":6859,"v":0.213},{"w":6864,"v":0.472},{"w":6868,"v":0.299},{"w":6872,"v":0.250},
      {"w":6877,"v":0.238},{"w":6881,"v":0.262},{"w":6887,"v":0.238},{"w":6890,"v":0.284},{"w":6894,"v":0.232},{"w":6900,"v":0.324},{"w":6904,"v":0.232},{"w":6908,"v":0.287},{"w":6911,"v":0.349},{"w":6915,"v":0.225},
      {"w":6921,"v":0.392},{"w":6926,"v":0.232},{"w":6932,"v":0.238},{"w":6938,"v":0.262},{"w":6942,"v":0.219},{"w":6947,"v":0.287},{"w":6950,"v":0.395},{"w":6955,"v":0.232},{"w":6960,"v":0.219},{"w":6965,"v":0.232},
      {"w":6968,"v":0.256},{"w":6972,"v":0.232},{"w":6977,"v":0.299},{"w":6981,"v":0.213},{"w":6988,"v":0.201},{"w":6994,"v":0.219},{"w":6998,"v":0.195},{"w":7004,"v":0.201},{"w":7011,"v":0.244},{"w":7016,"v":0.195},
      {"w":7024,"v":0.188},{"w":7034,"v":0.188},{"w":7040,"v":0.203},{"w":7047,"v":0.207},{"w":7053,"v":0.207},{"w":7060,"v":0.201},
      {"w":7073,"v":0.195},{"w":7083,"v":0.203},{"w":7087,"v":0.213},{"w":7091,"v":0.203},{"w":7099,"v":0.191},{"w":7112,"v":0.188},{"w":7125,"v":0.195},{"w":7128,"v":0.188},{"w":7133,"v":0.201},{"w":7138,"v":0.195},
      {"w":7143,"v":0.216},{"w":7148,"v":0.201},{"w":7155,"v":0.191},{"w":7164,"v":0.203},{"w":7176,"v":0.211},{"w":7187,"v":0.201},{"w":7200,"v":0.198},{"w":7210,"v":0.195},{"w":7217,"v":0.188},{"w":7223,"v":0.195},
      {"w":7231,"v":0.207},{"w":7236,"v":0.262},{"w":7240,"v":0.611},{"w":7244,"v":0.576},{"w":7248,"v":0.361},{"w":7251,"v":0.256},{"w":7253,"v":0.299},{"w":7256,"v":0.232},{"w":7262,"v":0.225},{"w":7268,"v":0.232},
      {"w":7271,"v":0.361},{"w":7275,"v":0.675},{"w":7279,"v":0.299},{"w":7283,"v":0.398},{"w":7287,"v":0.312},{"w":7290,"v":0.225},{"w":7293,"v":0.262},{"w":7297,"v":0.232},{"w":7303,"v":0.324},{"w":7307,"v":0.232},
      {"w":7311,"v":0.262},{"w":7315,"v":0.573},{"w":7319,"v":0.238},{"w":7324,"v":0.225},{"w":7328,"v":0.385},{"w":7332,"v":0.238},{"w":7336,"v":0.262},{"w":7341,"v":0.613},{"w":7345,"v":0.250},{"w":7349,"v":0.225},
      {"w":7354,"v":0.250},{"w":7358,"v":0.336},{"w":7362,"v":0.244},{"w":7366,"v":0.539},{"w":7369,"v":0.250},{"w":7373,"v":0.201},{"w":7380,"v":0.195},{"w":7385,"v":0.201},{"w":7390,"v":0.299},{"w":7393,"v":0.238},
      {"w":7397,"v":0.287},{"w":7401,"v":0.408},{"w":7405,"v":0.213},{"w":7413,"v":0.195},{"w":7419,"v":0.195},{"w":7424,"v":0.201},{"w":7429,"v":0.256},{"w":7432,"v":0.213},{"w":7436,"v":0.308},{"w":7440,"v":0.213},
      {"w":7445,"v":0.195},{"w":7458,"v":0.188},{"w":7465,"v":0.238},{"w":7470,"v":0.299},{"w":7474,"v":0.262},{"w":7478,"v":0.312},{"w":7482,"v":0.287},{"w":7486,"v":0.262},{"w":7490,"v":0.201},{"w":7493,"v":0.228},
      {"w":7498,"v":0.195},{"w":7511,"v":0.188},{"w":7517,"v":0.232},{"w":7520,"v":0.275},{"w":7524,"v":0.484},{"w":7527,"v":0.287},{"w":7530,"v":0.262},{"w":7535,"v":0.188},{"w":7539,"v":0.219},{"w":7543,"v":0.195},
      {"w":7550,"v":0.201},{"w":7555,"v":0.256},{"w":7559,"v":0.188},{"w":7564,"v":0.207},{"w":7568,"v":0.262},{"w":7572,"v":0.373},{"w":7576,"v":0.262},{"w":7580,"v":0.188},{"w":7584,"v":0.265},{"w":7588,"v":0.238},
      {"w":7592,"v":0.262},{"w":7596,"v":0.410},{"w":7599,"v":0.654},{"w":7602,"v":0.447},{"w":7605,"v":0.441},{"w":7609,"v":0.361},{"w":7613,"v":0.299},{"w":7616,"v":0.287},{"w":7620,"v":0.336},{"w":7625,"v":0.302},
      {"w":7628,"v":0.533},{"w":7632,"v":0.293},{"w":7636,"v":0.293},{"w":7640,"v":0.281},{"w":7645,"v":0.256},{"w":7649,"v":0.244},{"w":7653,"v":0.275},{"w":7656,"v":0.238},{"w":7660,"v":0.262},{"w":7663,"v":0.201},
      {"w":7671,"v":0.198},{"w":7677,"v":0.232},{"w":7682,"v":0.238},{"w":7686,"v":0.219},{"w":7690,"v":0.238},{"w":7694,"v":0.225},{"w":7697,"v":0.232},{"w":7701,"v":0.201},{"w":7707,"v":0.225},{"w":7710,"v":0.484},
      {"w":7715,"v":0.629},{"w":7720,"v":0.385},{"w":7722,"v":0.287},{"w":7725,"v":0.299},{"w":7727,"v":0.238},{"w":7733,"v":0.225},{"w":7738,"v":0.213},{"w":7743,"v":0.299},{"w":7748,"v":0.712},{"w":7751,"v":0.484},
      {"w":7755,"v":0.262},{"w":7759,"v":0.404},{"w":7762,"v":0.275},{"w":7765,"v":0.238},{"w":7771,"v":0.287},{"w":7774,"v":0.351},{"w":7777,"v":0.262},{"w":7780,"v":0.305},{"w":7784,"v":0.232},{"w":7788,"v":0.299},
      {"w":7792,"v":0.595},{"w":7795,"v":0.262},{"w":7799,"v":0.232},{"w":7803,"v":0.287},{"w":7807,"v":0.398},{"w":7810,"v":0.287},{"w":7814,"v":0.225},{"w":7820,"v":0.696},{"w":7823,"v":0.299},{"w":7827,"v":0.232},
      {"w":7832,"v":0.275},
      {"w":7837,"v":0.275},{"w":7840,"v":0.373},{"w":7844,"v":0.238},{"w":7847,"v":0.336},{"w":7851,"v":0.671},{"w":7855,"v":0.385},{"w":7857,"v":0.435},{"w":7860,"v":0.373},{"w":7863,"v":0.287},{"w":7865,"v":0.262},
      {"w":7869,"v":0.469},{"w":7872,"v":0.287},{"w":7874,"v":0.312},{"w":7878,"v":0.400},{"w":7881,"v":0.262},{"w":7884,"v":0.299},{"w":7887,"v":0.469},{"w":7891,"v":0.287},{"w":7896,"v":0.232},{"w":7899,"v":0.219},
      {"w":7904,"v":0.238},{"w":7908,"v":0.299},{"w":7912,"v":0.796},{"w":7916,"v":0.398},{"w":7919,"v":0.478},{"w":7922,"v":0.299},{"w":7925,"v":0.324},{"w":7930,"v":0.416},{"w":7934,"v":0.275},{"w":7938,"v":0.213},
      {"w":7944,"v":0.250},{"w":7948,"v":0.367},{"w":7951,"v":0.238},{"w":7955,"v":0.207},{"w":7959,"v":0.262},{"w":7963,"v":0.647},{"w":7967,"v":0.250},{"w":7972,"v":0.238},{"w":7978,"v":0.432},{"w":7982,"v":0.262},
      {"w":7986,"v":0.238},{"w":7991,"v":0.718},{"w":7996,"v":0.262},{"w":8000,"v":0.219},{"w":8005,"v":0.219},{"w":8009,"v":0.262},{"w":8012,"v":0.379},{"w":8016,"v":0.262},{"w":8020,"v":0.250},{"w":8025,"v":0.592},
      {"w":8029,"v":0.262},{"w":8033,"v":0.219},{"w":8040,"v":0.216},{"w":8046,"v":0.232},{"w":8050,"v":0.324},{"w":8054,"v":0.232},{"w":8057,"v":0.238},{"w":8061,"v":0.410},{"w":8065,"v":0.238},{"w":8069,"v":0.219},
      {"w":8074,"v":0.223},{"w":8078,"v":0.232},{"w":8081,"v":0.216},{"w":8085,"v":0.232},{"w":8089,"v":0.223},{"w":8093,"v":0.265},{"w":8095,"v":0.238},{"w":8099,"v":0.275},{"w":8101,"v":0.318},{"w":8104,"v":0.232},
      {"w":8108,"v":0.207},{"w":8115,"v":0.207},{"w":8121,"v":0.213},{"w":8128,"v":0.219},{"w":8133,"v":0.244},{"w":8136,"v":0.256},{"w":8140,"v":0.232},{"w":8144,"v":0.268},{"w":8147,"v":0.238},{"w":8154,"v":0.225},
      {"w":8159,"v":0.232},{"w":8164,"v":0.223},{"w":8168,"v":0.232},{"w":8174,"v":0.225},{"w":8180,"v":0.232},{"w":8185,"v":0.240},{"w":8188,"v":0.232},{"w":8192,"v":0.238},{"w":8196,"v":0.225},{"w":8203,"v":0.219},
      {"w":8213,"v":0.219},{"w":8223,"v":0.232},{"w":8226,"v":0.246},{"w":8231,"v":0.225},{"w":8236,"v":0.228},{"w":8242,"v":0.232},{"w":8249,"v":0.223},{"w":8255,"v":0.228},{"w":8265,"v":0.219},{"w":8270,"v":0.223},
      {"w":8275,"v":0.355},{"w":8278,"v":0.564},{"w":8281,"v":0.484},{"w":8285,"v":0.730},{"w":8289,"v":0.484},{"w":8293,"v":0.287},{"w":8297,"v":0.757},{"w":8300,"v":0.336},{"w":8303,"v":0.250},{"w":8307,"v":0.262},
      {"w":8310,"v":0.398},{"w":8313,"v":0.262},{"w":8316,"v":0.244},{"w":8321,"v":0.225},{"w":8327,"v":0.219},{"w":8334,"v":0.232},{"w":8338,"v":0.299},{"w":8344,"v":1.115},{"w":8347,"v":0.429},{"w":8351,"v":0.663},
      {"w":8354,"v":0.361},{"w":8358,"v":0.250},{"w":8363,"v":0.392},{"w":8366,"v":0.262},{"w":8371,"v":0.225},{"w":8376,"v":0.256},{"w":8380,"v":0.496},{"w":8384,"v":0.250},{"w":8389,"v":0.275},{"w":8393,"v":0.312},
      {"w":8397,"v":0.962},{"w":8401,"v":0.336},{"w":8406,"v":0.262},{"w":8409,"v":0.299},{"w":8413,"v":0.607},{"w":8417,"v":0.299},{"w":8421,"v":0.244},{"w":8424,"v":0.275},{"w":8428,"v":1.026},{"w":8432,"v":0.287},
      {"w":8435,"v":0.244},{"w":8440,"v":0.238},{"w":8445,"v":0.287},{"w":8449,"v":0.499},{"w":8453,"v":0.262},{"w":8457,"v":0.250},{"w":8463,"v":0.847},{"w":8466,"v":0.287},{"w":8471,"v":0.238},{"w":8476,"v":0.238},
      {"w":8481,"v":0.262},{"w":8484,"v":0.262},{"w":8487,"v":0.312},{"w":8491,"v":0.429},{"w":8495,"v":0.250},{"w":8499,"v":0.268},{"w":8503,"v":0.656},{"w":8507,"v":0.262},{"w":8510,"v":0.225},{"w":8515,"v":0.219},
      {"w":8519,"v":0.232},{"w":8523,"v":0.219},{"w":8530,"v":0.219},{"w":8534,"v":0.262},{"w":8537,"v":0.326},{"w":8541,"v":0.238},{"w":8546,"v":0.410},{"w":8549,"v":0.238},{"w":8555,"v":0.219},{"w":8562,"v":0.219},
      {"w":8569,"v":0.232},{"w":8573,"v":0.228},{"w":8579,"v":0.219},{"w":8583,"v":0.265},{"w":8585,"v":0.289},{"w":8588,"v":0.252},{"w":8592,"v":0.305},{"w":8595,"v":0.281},{"w":8598,"v":0.238},{"w":8604,"v":0.232},
      {"w":8608,"v":0.262},{"w":8613,"v":0.336},
      {"w":8618,"v":0.336},{"w":8623,"v":0.429},{"w":8627,"v":0.478},{"w":8631,"v":0.459},{"w":8635,"v":0.385},{"w":8639,"v":0.299},{"w":8641,"v":0.287},{"w":8645,"v":0.361},{"w":8649,"v":0.484},{"w":8653,"v":0.527},
      {"w":8657,"v":0.521},{"w":8661,"v":0.509},{"w":8665,"v":0.459},{"w":8670,"v":0.373},{"w":8675,"v":0.324},{"w":8680,"v":0.275},{"w":8685,"v":0.262},{"w":8688,"v":0.256},{"w":8692,"v":0.250},{"w":8696,"v":0.262},
      {"w":8702,"v":0.250},{"w":8705,"v":0.265},{"w":8709,"v":0.232},{"w":8716,"v":0.223},{"w":8722,"v":0.225},{"w":8726,"v":0.238},{"w":8730,"v":0.228},{"w":8736,"v":0.232},{"w":8742,"v":0.238},{"w":8749,"v":0.234},
      {"w":8752,"v":0.238},{"w":8755,"v":0.484},{"w":8758,"v":0.860},{"w":8760,"v":0.484},{"w":8763,"v":0.361},{"w":8768,"v":0.275},{"w":8772,"v":0.607},{"w":8775,"v":0.933},{"w":8779,"v":0.484},{"w":8783,"v":0.250},
      {"w":8786,"v":0.361},{"w":8788,"v":0.521},{"w":8792,"v":0.287},{"w":8796,"v":0.238},{"w":8800,"v":0.232},{"w":8803,"v":0.238},{"w":8807,"v":0.275},{"w":8810,"v":0.250},{"w":8814,"v":0.238},{"w":8819,"v":0.287},
      {"w":8822,"v":0.484},{"w":8824,"v":2.0},{"w":8827,"v":0.484},{"w":8830,"v":0.496},{"w":8832,"v":0.888},{"w":8835,"v":0.484},{"w":8837,"v":0.262},{"w":8841,"v":0.250},{"w":8845,"v":0.361},{"w":8847,"v":0.468},
      {"w":8850,"v":0.287},{"w":8853,"v":0.238},{"w":8857,"v":0.256},{"w":8861,"v":0.484},{"w":8864,"v":0.644},{"w":8867,"v":0.336},{"w":8871,"v":0.262},{"w":8875,"v":0.256},{"w":8879,"v":0.484},{"w":8882,"v":1.223},
      {"w":8886,"v":0.484},{"w":8889,"v":0.262},{"w":8892,"v":0.262},{"w":8896,"v":0.484},{"w":8900,"v":0.746},{"w":8904,"v":0.484},{"w":8907,"v":0.287},{"w":8911,"v":0.262},{"w":8914,"v":0.484},{"w":8916,"v":2.0},
      {"w":8919,"v":0.484},{"w":8922,"v":0.287},{"w":8926,"v":0.262},{"w":8930,"v":0.275},{"w":8933,"v":0.262},{"w":8937,"v":0.361},{"w":8941,"v":0.671},{"w":8945,"v":0.336},{"w":8948,"v":0.262},{"w":8951,"v":0.361},
      {"w":8955,"v":1.170},{"w":8959,"v":0.484},{"w":8963,"v":0.268},{"w":8967,"v":0.299},{"w":8971,"v":0.265},{"w":8975,"v":0.293},{"w":8979,"v":0.275},{"w":8982,"v":0.484},{"w":8986,"v":0.675},{"w":8989,"v":0.484},
      {"w":8993,"v":0.287},{"w":8996,"v":0.484},{"w":8999,"v":1.014},{"w":9003,"v":0.484},{"w":9006,"v":0.262},{"w":9010,"v":0.250},{"w":9014,"v":0.256},{"w":9018,"v":0.275},{"w":9022,"v":0.268},{"w":9026,"v":0.262},
      {"w":9030,"v":0.262},{"w":9033,"v":0.275},{"w":9037,"v":0.265},{"w":9041,"v":0.287},{"w":9045,"v":0.484},{"w":9047,"v":0.583},{"w":9050,"v":0.361},{"w":9054,"v":0.262},{"w":9058,"v":0.265},{"w":9062,"v":0.287},
      {"w":9066,"v":0.293},{"w":9070,"v":0.268},{"w":9074,"v":0.275},{"w":9078,"v":0.262},{"w":9082,"v":0.275},{"w":9086,"v":0.312},{"w":9090,"v":0.385},{"w":9093,"v":0.287},{"w":9096,"v":0.324},{"w":9099,"v":0.447},
      {"w":9103,"v":0.361},{"w":9106,"v":0.262},{"w":9111,"v":0.262},{"w":9118,"v":0.256},{"w":9124,"v":0.262},{"w":9131,"v":0.265},{"w":9137,"v":0.268},{"w":9144,"v":0.287},{"w":9147,"v":0.324},{"w":9150,"v":0.361},
      {"w":9154,"v":0.299},{"w":9157,"v":0.392},{"w":9160,"v":0.299},{"w":9163,"v":0.275},{"w":9170,"v":0.277},{"w":9177,"v":0.277},{"w":9183,"v":0.273},{"w":9190,"v":0.268},{"w":9196,"v":0.275},{"w":9203,"v":0.275},
      {"w":9209,"v":0.287},{"w":9212,"v":0.324},{"w":9216,"v":0.361},{"w":9219,"v":0.324},{"w":9222,"v":0.379},{"w":9225,"v":0.324},{"w":9229,"v":0.287},{"w":9235,"v":0.287},{"w":9242,"v":0.299},{"w":9245,"v":0.324},
      {"w":9248,"v":0.287},{"w":9252,"v":0.312},{"w":9255,"v":0.287},{"w":9258,"v":0.312},{"w":9261,"v":0.287},{"w":9268,"v":0.293},{"w":9274,"v":0.312},{"w":9278,"v":0.324},{"w":9281,"v":0.373},{"w":9284,"v":0.385},
      {"w":9288,"v":0.398},{"w":9291,"v":0.404},{"w":9294,"v":0.373},{"w":9297,"v":0.398},{"w":9301,"v":0.385},{"w":9304,"v":0.410},{"w":9308,"v":0.400}
    ]
  },
  "layer": [
    {
      "data": {"name": "err"},
      "mark": {"type": "line", "color": "#008000", "strokeWidth": 1.4, "clip": true},
      "encoding": {
        "x": {
          "field": "w", "type": "quantitative", "title": "Wavelength",
          "scale": {"domain": [4747, 9304], "nice": false, "zero": false},
          "axis": {
            "values": [5000, 6000, 7000, 8000, 9000], "format": "d",
            "labelFontSize": 28, "labelPadding": 12,
            "titleFontSize": 32, "titlePadding": 6
          }
        },
        "y": {
          "field": "v", "type": "quantitative",
          "title": "10⁻¹⁸ erg s⁻¹ cm⁻² Å⁻¹",
          "scale": {"domain": [-0.571, 1.332], "nice": false, "zero": false},
          "axis": {
            "values": [-0.5, -0.25, 0, 0.25, 0.5, 0.75, 1, 1.25], "format": ".2f",
            "labelFontSize": 34, "labelPadding": 19,
            "titleFontSize": 44, "titlePadding": 22
          }
        }
      }
    },
    {
      "data": {"values": [{"v": 0}]},
      "mark": {"type": "rule", "color": "#0000ff", "strokeWidth": 6},
      "encoding": {
        "y": {"field": "v", "type": "quantitative", "title": "10⁻¹⁸ erg s⁻¹ cm⁻² Å⁻¹"}
      }
    },
    {
      "data": {"name": "flux"},
      "mark": {"type": "line", "color": "black", "strokeWidth": 4, "clip": true},
      "encoding": {
        "x": {"field": "w", "type": "quantitative", "title": "Wavelength"},
        "y": {"field": "v", "type": "quantitative", "title": "10⁻¹⁸ erg s⁻¹ cm⁻² Å⁻¹"}
      }
    }
  ]
}
